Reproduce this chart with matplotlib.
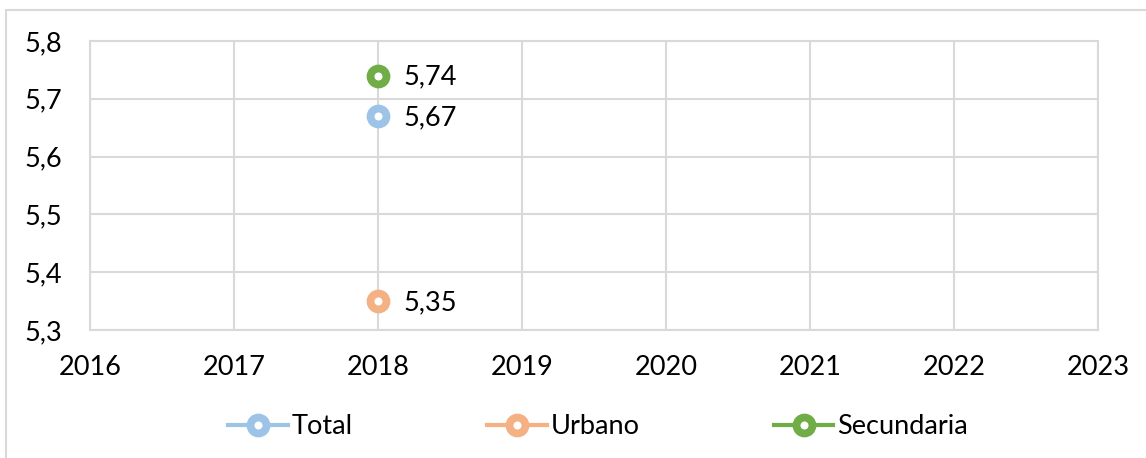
import matplotlib
matplotlib.use("Agg")
import matplotlib.pyplot as plt
from matplotlib.patches import Rectangle
from matplotlib.ticker import FuncFormatter, MultipleLocator

years = [2018]
total = [5.67]
urbano = [5.35]
secundaria = [5.74]
series_names = ["Total", "Urbano", "Secundaria"]
colors = ["#9DC3E6", "#F4B183", "#70AD47"]

plt.rcParams['font.family'] = ['Lato', 'DejaVu Sans']
FS = 19.5

fig = plt.figure(figsize=(11.46, 4.58), dpi=100)
ax = fig.add_axes([90/1146, 1-330/458, (1098-90)/1146, (330-41)/458])

fig.patches.append(Rectangle((6/1146, -0.1), 1.2, 1.1 - 10/458,
                             transform=fig.transFigure, fill=False,
                             edgecolor="#D9D9D9", linewidth=1.5))

for name, vals, c in zip(series_names, [total, urbano, secundaria], colors):
    ax.plot(years, vals, color=c, linewidth=3, marker='o', markersize=11.5,
            markerfacecolor='white', markeredgecolor=c, markeredgewidth=5.6,
            label=name, zorder=3)
    for x, v in zip(years, vals):
        ax.annotate(f"{v:.2f}".replace('.', ','), (x, v), xytext=(18, -1),
                    textcoords='offset points', ha='left', va='center',
                    fontsize=FS, color='#000000')

ax.set_xlim(2016, 2023)
ax.set_ylim(5.3, 5.8)
ax.xaxis.set_major_locator(MultipleLocator(1))
ax.yaxis.set_major_locator(MultipleLocator(0.1))
ax.yaxis.set_major_formatter(FuncFormatter(lambda v, p: f"{v:.1f}".replace('.', ',')))
ax.xaxis.set_major_formatter(FuncFormatter(lambda v, p: f"{int(round(v))}"))
ax.grid(True, color="#D9D9D9", linewidth=1.5)
ax.set_axisbelow(True)
for s in ax.spines.values():
    s.set_color("#D9D9D9")
    s.set_linewidth(1.5)
ax.tick_params(length=0, labelsize=FS, colors='#000000')
ax.tick_params(axis='y', pad=20)
ax.tick_params(axis='x', pad=18)

leg = fig.legend(loc='center', bbox_to_anchor=(0.522, 1-427/458), ncol=3,
                 frameon=False, fontsize=FS, handlelength=2.2,
                 handletextpad=0.15, columnspacing=4.95)

fig.savefig("out.png", dpi=100)
